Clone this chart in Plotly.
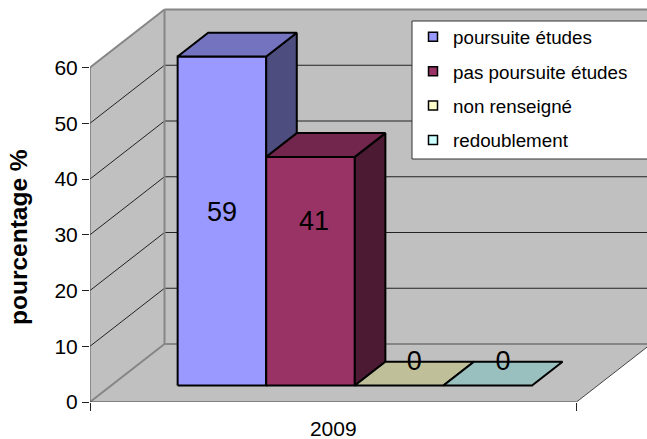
import plotly.graph_objects as go

YEARS = ["2009"]
SERIES = ["poursuite études", "pas poursuite études", "non renseigné", "redoublement"]
VALUES = [59, 41, 0, 0]
Y_TICKS = [0, 10, 20, 30, 40, 50, 60]

FRONT = ["#9999FF", "#993366", "#D9D9AD", "#ADD9D9"]
TOP = ["#7373BF", "#73264D", "#BFBF99", "#99BFBF"]
SIDE = ["#4D4D80", "#4D1A33", "#808066", "#668080"]
SWATCH = ["#9999FF", "#993366", "#FFFFCC", "#CCFFFF"]

# Oblique projection constants (one category band = 1 x unit, value unit on y)
PX_PER_BAND = 486.5
PX_PER_VAL = 5.575
DEPTH_X = 74.5 / PX_PER_BAND
DEPTH_Y = 58 / PX_PER_VAL
GAP = 0.1365
BAR_W = 0.1821
D0, D1 = 0.285, 0.695
LABEL_H = [30.8, 29.1, 1.8, 1.8]
LABEL_DX = [0, 0.007, 0, 0]


def proj(x, v, d):
    return x + d * DEPTH_X, v + d * DEPTH_Y


def poly(corners, fill, line, width, layer_name="", **kw):
    pts = [proj(*c) for c in corners]
    pts.append(pts[0])
    return go.Scatter(
        x=[p[0] for p in pts], y=[p[1] for p in pts], mode="lines",
        fill="toself", fillcolor=fill, line=dict(color=line, width=width),
        showlegend=False, hoverinfo="skip", name=layer_name, **kw)


def seg(a, b, color, width):
    pa, pb = proj(*a), proj(*b)
    return go.Scatter(x=[pa[0], pb[0]], y=[pa[1], pb[1]], mode="lines",
                      line=dict(color=color, width=width),
                      showlegend=False, hoverinfo="skip")


WALL = "#C0C0C0"
EDGE = "#868686"
GRID = "#222222"
TOPV = Y_TICKS[-1]
fig = go.Figure()
# walls and floor
fig.add_trace(poly([(0, 0, 1), (1, 0, 1), (1, TOPV, 1), (0, TOPV, 1)], WALL, WALL, 0))
fig.add_trace(poly([(0, 0, 0), (0, 0, 1), (0, TOPV, 1), (0, TOPV, 0)], WALL, WALL, 0))
fig.add_trace(poly([(0, 0, 0), (1, 0, 0), (1, 0, 1), (0, 0, 1)], WALL, WALL, 0))
for v in Y_TICKS[1:-1]:
    fig.add_trace(seg((0, v, 0), (0, v, 1), GRID, 1))
    fig.add_trace(seg((0, v, 1), (1, v, 1), GRID, 1))
fig.add_trace(seg((0, 0, 0), (0, 0, 1), EDGE, 2))
fig.add_trace(seg((0, 0, 1), (1, 0, 1), EDGE, 2))
fig.add_trace(seg((0, 0, 1), (0, TOPV, 1), EDGE, 2))
fig.add_trace(seg((0, TOPV, 1), (1, TOPV, 1), EDGE, 2))
fig.add_trace(seg((0, TOPV, 0), (0, TOPV, 1), EDGE, 2))
fig.add_trace(seg((0, 0, 0), (0, TOPV, 0), "#555555", 1))
fig.add_trace(seg((0, 0, 0), (1, 0, 0), "#444444", 1))
fig.add_trace(seg((1, 0, 0), (1, 0, 1), "#444444", 1))

# bars
for i, val in enumerate(VALUES):
    x0 = GAP + i * BAR_W
    x1 = x0 + BAR_W
    if val > 0:
        fig.add_trace(poly([(x0, 0, D0), (x1, 0, D0), (x1, val, D0), (x0, val, D0)], FRONT[i], "#000000", 2))
        fig.add_trace(poly([(x1, 0, D0), (x1, 0, D1), (x1, val, D1), (x1, val, D0)], SIDE[i], "#000000", 2))
    fig.add_trace(poly([(x0, val, D0), (x1, val, D0), (x1, val, D1), (x0, val, D1)], TOP[i], "#000000", 2))

# value labels
for i, val in enumerate(VALUES):
    x0 = GAP + i * BAR_W
    if val > 0:
        lx, ly = proj(x0 + BAR_W / 2 + LABEL_DX[i], LABEL_H[i], D0)
    else:
        lx, ly = proj(x0 + BAR_W / 2, LABEL_H[i], (D0 + D1) / 2)
    fig.add_trace(go.Scatter(x=[lx], y=[ly], mode="text", text=[str(val)],
                             textposition="middle center",
                             textfont=dict(size=27, color="#000000"),
                             showlegend=False, hoverinfo="skip"))

# legend entries
for i, name in enumerate(SERIES):
    fig.add_trace(go.Scatter(x=[None], y=[None], mode="markers", name=name,
                             legendgroup=name,
                             marker=dict(symbol="square", size=9, color=SWATCH[i],
                                         line=dict(color="#000000", width=1.5))))

fig.update_layout(
    width=647, height=439, margin=dict(l=90, r=0, t=0, b=37, autoexpand=False),
    paper_bgcolor="#FFFFFF", plot_bgcolor="#FFFFFF",
    font=dict(family="Liberation Sans, Arial, sans-serif", color="#000000", size=18),
    xaxis=dict(range=[0, 557 / PX_PER_BAND], tickmode="array", tickvals=[0.5], ticktext=YEARS,
               ticks="", showgrid=False, zeroline=False, showline=False,
               tickfont=dict(size=21), ticklabelstandoff=12,
               minor=dict(tickmode="array", tickvals=[0, 1], ticks="outside", ticklen=8,
                          tickcolor="#222222", tickwidth=1, showgrid=False)),
    yaxis=dict(range=[0, 402 / PX_PER_VAL], tickmode="array", tickvals=Y_TICKS,
               ticks="outside", ticklen=7, tickcolor="#222222", tickwidth=1,
               showgrid=False, zeroline=False, showline=False,
               tickfont=dict(size=21)),
    shapes=[dict(type="rect", xref="paper", yref="paper", layer="above",
                 x0=(412 - 90) / 557, x1=1.02, y0=(402 - 159) / 402, y1=(402 - 21) / 402,
                 fillcolor="#FFFFFF", line=dict(color="#333333", width=1))],
    legend=dict(x=413 / 647, y=1 - 18 / 439, xref="container", yref="container",
                xanchor="left", yanchor="top",
                bgcolor="rgba(0,0,0,0)", borderwidth=0,
                font=dict(size=18.8), traceorder="grouped", tracegroupgap=7,
                entrywidth=220, entrywidthmode="pixels"),
    annotations=[dict(text="<b>pourcentage %</b>", xref="paper", yref="paper",
                      x=-72 / 557, y=(402 - 237) / 402, textangle=-90,
                      xanchor="center", yanchor="middle",
                      showarrow=False, font=dict(size=24.5))],
)
fig.write_html("out.html", config=dict(displayModeBar=False),
               post_script="document.body.style.margin='0';document.body.style.overflow='hidden';")
